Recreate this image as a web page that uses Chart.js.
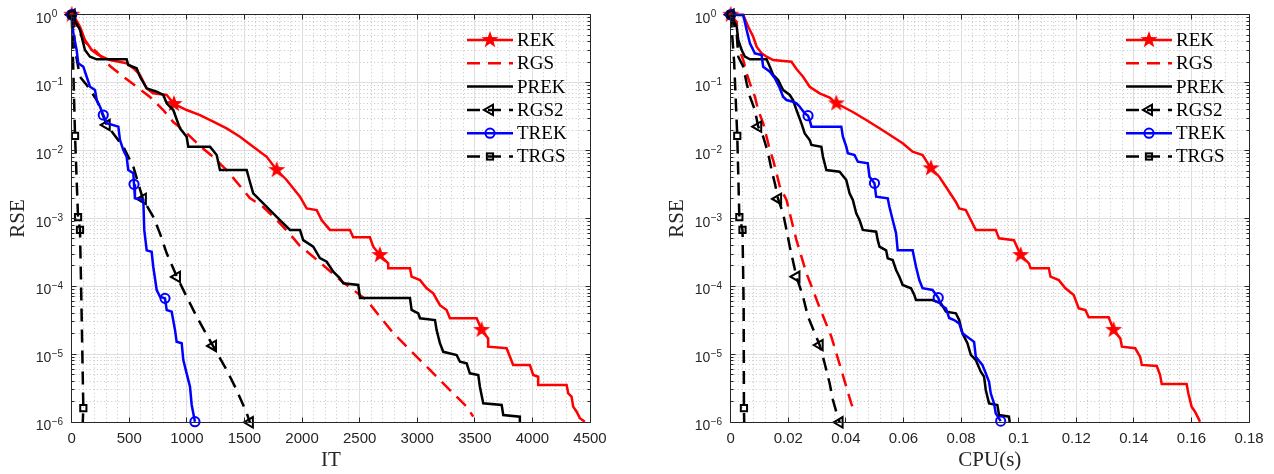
<!DOCTYPE html>
<html>
<head>
<meta charset="utf-8">
<script src="https://cdn.jsdelivr.net/npm/chart.js@4.4.1/dist/chart.umd.min.js"></script>
<style>
  html, body { margin: 0; padding: 0; background: #fff; }
  #wrap { position: relative; width: 1274px; height: 474px; }
  canvas { position: absolute; top: 0; }
  #cL { left: 0; }
  #cR { left: 660px; }
</style>
</head>
<body>
<div id="wrap">
  <canvas id="cL" width="660" height="474"></canvas>
  <canvas id="cR" width="614" height="474"></canvas>
</div>
<script>
const SERIES = ['REK', 'RGS', 'PREK', 'RGS2', 'TREK', 'TRGS'];

const IT_TICKS = [0, 500, 1000, 1500, 2000, 2500, 3000, 3500, 4000, 4500];
const IT_LABELS = ['0', '500', '1000', '1500', '2000', '2500', '3000', '3500', '4000', '4500'];
const CPU_TICKS = [0, 0.02, 0.04, 0.06, 0.08, 0.1, 0.12, 0.14, 0.16, 0.18];
const CPU_LABELS = ['0', '0.02', '0.04', '0.06', '0.08', '0.1', '0.12', '0.14', '0.16', '0.18'];
const RSE_EXP = [0, -1, -2, -3, -4, -5, -6];

// left panel: RSE against iterations, [IT, RSE]
const REK_IT = [[0,1],[14,0.99],[72,0.666],[115,0.425],[174,0.302],[231,0.255],[332,0.215],[477,0.193],[535,0.163],[593,0.13],[651,0.0825],[708,0.0697],[825,0.0658],[888,0.0485],[998,0.0395],[1114,0.0333],[1229,0.0266],[1345,0.0212],[1461,0.016],[1576,0.0114],[1693,0.0081],[1780,0.00517],[1866,0.00369],[1982,0.00209],[2040,0.00141],[2127,0.00133],[2170,9.5e-4],[2242,6.8e-4],[2416,6.8e-4],[2444,5.3e-4],[2589,5.3e-4],[2618,3.85e-4],[2676,2.9e-4],[2748,2.19e-4],[2748,1.85e-4],[2937,1.85e-4],[2951,1.39e-4],[3024,1.24e-4],[3082,9.4e-5],[3139,7.9e-5],[3197,5.3e-5],[3255,4.5e-5],[3284,3.4e-5],[3516,3.4e-5],[3559,2.29e-5],[3616,1.72e-5],[3616,1.3e-5],[3776,1.23e-5],[3805,9.2e-6],[3833,7.0e-6],[3978,7.0e-6],[4007,4.97e-6],[4050,4.69e-6],[4050,3.54e-6],[4297,3.54e-6],[4311,2.67e-6],[4340,2.38e-6],[4354,1.7e-6],[4384,1.43e-6],[4412,1.15e-6],[4455,1.02e-6]];
const RGS_IT = [[0,1],[55,0.595],[115,0.396],[217,0.282],[332,0.176],[448,0.122],[564,0.087],[680,0.0614],[795,0.0395],[882,0.0263],[998,0.0181],[1114,0.01167],[1229,0.00804],[1345,0.00517],[1461,0.00301],[1547,0.002],[1663,0.001476],[1780,9.5e-4],[1895,5.9e-4],[1982,3.94e-4],[2097,2.74e-4],[2214,1.85e-4],[2330,1.24e-4],[2444,8.9e-5],[2561,6.3e-5],[2676,3.58e-5],[2792,2.06e-5],[2908,1.3e-5],[3052,7.4e-6],[3168,4.69e-6],[3312,2.67e-6],[3429,1.7e-6],[3486,1.21e-6]];
const PREK_IT = [[0,1],[72,0.595],[115,0.302],[159,0.241],[217,0.2205],[477,0.2205],[491,0.1818],[564,0.1626],[593,0.122],[651,0.0825],[738,0.0735],[795,0.0658],[825,0.0496],[882,0.0395],[940,0.0212],[998,0.016],[1012,0.0114],[1201,0.0114],[1259,0.0086],[1287,0.00517],[1519,0.00517],[1547,0.00348],[1576,0.00235],[1663,0.00167],[1721,0.00133],[1808,9.5e-4],[1895,6.8e-4],[1982,6.8e-4],[2010,4.8e-4],[2097,3.85e-4],[2155,2.62e-4],[2214,2.31e-4],[2271,1.65e-4],[2329,1.32e-4],[2358,1.11e-4],[2488,1.05e-4],[2503,6.76e-5],[2937,6.76e-5],[2951,4.5e-5],[3009,4.02e-5],[3024,3.4e-5],[3154,3.2e-5],[3168,2.29e-5],[3197,1.46e-5],[3226,1.09e-5],[3342,9.8e-6],[3371,7.8e-6],[3429,7.4e-6],[3457,5.26e-6],[3530,4.97e-6],[3544,3.34e-6],[3573,1.9e-6],[3733,1.8e-6],[3747,1.28e-6],[3891,1.21e-6],[3891,1e-6]];
const RGS2_IT = [[0,1],[14,0.835],[29,0.302],[72,0.122],[130,0.0923],[217,0.0555],[304,0.0238],[448,0.0114],[535,0.00578],[618,0.00194],[708,0.00106],[766,6.05e-4],[825,3.07e-4],[914,1.38e-4],[998,7.06e-5],[1085,3.58e-5],[1227,1.33e-5],[1345,5.9e-6],[1432,2.99e-6],[1519,1.37e-6],[1547,1e-6]];
const TREK_IT = [[0,1],[14,0.532],[43,0.302],[57,0.1925],[101,0.1716],[130,0.122],[159,0.087],[202,0.0779],[217,0.0555],[246,0.0442],[274,0.0334],[304,0.0252],[405,0.0225],[419,0.0143],[448,0.0102],[477,0.0081],[491,0.00517],[535,0.00463],[541,0.00319],[549,0.00198],[622,0.00187],[630,6.8e-4],[651,3.4e-4],[694,3.24e-4],[708,1.95e-4],[738,8.86e-5],[767,7.06e-5],[810,6.68e-5],[825,4.5e-5],[868,4.25e-5],[897,2.29e-5],[911,1.53e-5],[955,1.46e-5],[969,8.26e-6],[998,5.26e-6],[1027,3.34e-6],[1042,1.8e-6],[1070,1.02e-6]];
const TRGS_IT = [[0,1],[12,0.2],[29,0.0164],[55,1.05e-3],[72,6.8e-4],[85,5e-5],[101,1.62e-6],[96,1e-6]];

const REK_IT_MARKS = [0, 888, 1780, 2676, 3559];
const RGS2_IT_MARKS = [0, 304, 618, 914, 1227, 1547];
const TREK_IT_MARKS = [0, 274, 541, 810, 1070];
const TRGS_IT_MARKS = [0, 29, 55, 72, 101];

// right panel: RSE against CPU time in seconds, [CPU, RSE]
const REK_CPU = [[0,1],[0.00436,0.99],[0.00609,0.666],[0.00782,0.474],[0.009,0.338],[0.01073,0.27],[0.01246,0.241],[0.01474,0.215],[0.02111,0.203],[0.02284,0.159],[0.02512,0.122],[0.02744,0.087],[0.0309,0.0697],[0.03436,0.0604],[0.03668,0.0496],[0.04242,0.037],[0.04706,0.0282],[0.05166,0.0213],[0.05626,0.016],[0.05972,0.0128],[0.06318,0.00962],[0.06664,0.0086],[0.06955,0.00548],[0.07242,0.00412],[0.07474,0.00294],[0.0782,0.00175],[0.07934,0.00141],[0.08166,0.00133],[0.08339,9.5e-4],[0.08512,6.8e-4],[0.09204,6.8e-4],[0.09318,5.1e-4],[0.09837,4.8e-4],[0.10069,2.9e-4],[0.10356,2.19e-4],[0.10415,1.85e-4],[0.11048,1.85e-4],[0.11107,1.39e-4],[0.11394,1.24e-4],[0.11626,9.4e-5],[0.11913,7.48e-5],[0.12087,4.76e-5],[0.12318,4.5e-5],[0.12433,3.51e-5],[0.13125,3.51e-5],[0.13298,2.29e-5],[0.1353,1.72e-5],[0.13585,1.3e-5],[0.14048,1.23e-5],[0.14221,9.2e-6],[0.14277,7.0e-6],[0.14796,6.74e-6],[0.14913,4.97e-6],[0.14969,3.66e-6],[0.15834,3.66e-6],[0.15893,2.67e-6],[0.16007,1.7e-6],[0.16125,1.43e-6],[0.16239,1.15e-6],[0.16298,1.02e-6]];
const RGS_CPU = [[0,1],[0.00208,0.781],[0.00263,0.338],[0.00436,0.215],[0.00554,0.137],[0.00668,0.0977],[0.0084,0.0621],[0.00955,0.0395],[0.01128,0.0252],[0.01246,0.016],[0.0136,0.0102],[0.01474,0.00726],[0.01592,0.00463],[0.01706,0.00294],[0.01938,0.00187],[0.02052,0.00119],[0.02166,7.57e-4],[0.02284,4.8e-4],[0.02457,2.74e-4],[0.0263,1.56e-4],[0.02858,8.86e-5],[0.03031,5.64e-5],[0.03263,3.2e-5],[0.03495,1.82e-5],[0.03668,1.04e-5],[0.03841,5.9e-6],[0.04014,3.34e-6],[0.04187,1.9e-6],[0.04301,1.43e-6]];
const PREK_CPU = [[0,1],[0.00208,0.666],[0.00263,0.425],[0.00381,0.302],[0.00495,0.241],[0.00668,0.2205],[0.01246,0.2205],[0.0136,0.1716],[0.01474,0.13],[0.01647,0.109],[0.0182,0.078],[0.02052,0.0658],[0.02166,0.0555],[0.02284,0.0395],[0.02457,0.0252],[0.02571,0.0179],[0.02744,0.0143],[0.02803,0.0121],[0.03149,0.0114],[0.03204,0.0081],[0.03322,0.00517],[0.03782,0.00489],[0.04014,0.00369],[0.04128,0.00235],[0.04242,0.00187],[0.0436,0.00119],[0.04474,9.5e-4],[0.04588,6.8e-4],[0.05052,6.4e-4],[0.05107,4.8e-4],[0.05166,3.85e-4],[0.05398,3.4e-4],[0.05453,2.59e-4],[0.05626,2.45e-4],[0.05744,1.75e-4],[0.05858,1.39e-4],[0.05972,1.05e-4],[0.06263,9.38e-5],[0.06377,7.48e-5],[0.06436,6.3e-5],[0.0701,6.3e-5],[0.07301,5.64e-5],[0.07474,4.25e-5],[0.0782,4.02e-5],[0.07934,3.2e-5],[0.08048,2.04e-5],[0.08221,1.46e-5],[0.08339,9.8e-6],[0.08512,8.26e-6],[0.08685,5.56e-6],[0.088,4.69e-6],[0.08858,2.99e-6],[0.08972,1.9e-6],[0.0926,1.8e-6],[0.09318,1.28e-6],[0.09664,1.21e-6],[0.09689,1e-6]];
const RGS2_CPU = [[0,1],[0.00208,0.532],[0.00263,0.241],[0.00436,0.1716],[0.00554,0.0977],[0.00668,0.0621],[0.0084,0.0395],[0.00955,0.0225],[0.01128,0.016],[0.01301,0.00912],[0.01419,0.00517],[0.01533,0.0033],[0.01647,0.00194],[0.0182,0.00119],[0.01938,6.8e-4],[0.02052,3.85e-4],[0.02284,1.39e-4],[0.02398,9.9e-5],[0.02512,7.06e-5],[0.02685,3.58e-5],[0.0309,1.37e-5],[0.03263,7.38e-6],[0.03436,3.75e-6],[0.0355,2.13e-6],[0.03668,1.43e-6],[0.03782,1e-6]];
const TREK_CPU = [[0,1],[0.00436,0.99],[0.00554,0.595],[0.00668,0.379],[0.0084,0.27],[0.01073,0.255],[0.01128,0.1716],[0.0136,0.145],[0.01533,0.116],[0.01706,0.0826],[0.0182,0.0621],[0.01938,0.0555],[0.02166,0.0524],[0.02284,0.0496],[0.02398,0.0442],[0.02571,0.0354],[0.02685,0.0326],[0.02744,0.0282],[0.02803,0.0225],[0.03841,0.0225],[0.03896,0.016],[0.04014,0.0114],[0.04069,0.00912],[0.04301,0.0086],[0.04415,0.00686],[0.04761,0.00649],[0.0482,0.00412],[0.04993,0.0033],[0.05052,0.00209],[0.05453,0.00198],[0.05512,0.00149],[0.05626,9.5e-4],[0.05744,6.05e-4],[0.05799,3.4e-4],[0.06318,3.4e-4],[0.06436,1.95e-4],[0.0655,1.24e-4],[0.06664,9.4e-5],[0.0701,8.86e-5],[0.07208,6.82e-5],[0.07301,5.33e-5],[0.07474,4.76e-5],[0.07588,3.43e-5],[0.07761,3.2e-5],[0.07934,2.86e-5],[0.08048,2.04e-5],[0.08453,1.53e-5],[0.08512,9.2e-6],[0.0874,7.0e-6],[0.08858,5.26e-6],[0.08972,3.95e-6],[0.09031,2.67e-6],[0.09145,1.9e-6],[0.09204,1.36e-6],[0.09377,1.04e-6]];
const TRGS_CPU = [[0,1],[0.0012,0.2],[0.00228,0.0164],[0.003,1.05e-3],[0.0041,6.8e-4],[0.0045,5e-5],[0.0046,1.62e-6],[0.0047,1e-6]];

const REK_CPU_MARKS = [0, 0.03668, 0.06955, 0.10069, 0.13298];
const RGS2_CPU_MARKS = [0, 0.00955, 0.01647, 0.02284, 0.0309, 0.03782];
const TREK_CPU_MARKS = [0, 0.02685, 0.04993, 0.07208, 0.09377];
const TRGS_CPU_MARKS = [0, 0.00228, 0.003, 0.0041, 0.0046];

const TICK_FONT = '"Liberation Sans", Arial, Helvetica, sans-serif';
const SERIF = '"Liberation Serif", "Times New Roman", serif';
const AXIS_GRAY = '#262626';
const DASH = [13, 8];
const LINE_W = 2.5;

// filled pentagram, MATLAB 'p' marker
function makeStar(r, color) {
  const c = document.createElement('canvas');
  const s = Math.ceil(r * 2 + 2);
  c.width = c.height = s;
  const g = c.getContext('2d');
  g.beginPath();
  for (let i = 0; i < 10; i++) {
    const rr = i % 2 ? r * 0.4 : r;
    const a = -Math.PI / 2 + i * Math.PI / 5;
    g.lineTo(s / 2 + rr * Math.cos(a), s / 2 + rr * Math.sin(a));
  }
  g.closePath();
  g.fillStyle = color;
  g.fill();
  return c;
}
const STAR = makeStar(9, '#ff0000');

const STYLES = {
  REK:  {color: '#ff0000', dash: [], marker: 'star', pointStyle: STAR, r: 8},
  RGS:  {color: '#ff0000', dash: DASH, marker: null},
  PREK: {color: '#000000', dash: [], marker: null},
  RGS2: {color: '#000000', dash: DASH, marker: 'triangle', pointStyle: 'triangle', rot: -90, r: 6},
  TREK: {color: '#0000ff', dash: [], marker: 'circle', pointStyle: 'circle', r: 4.6},
  TRGS: {color: '#000000', dash: DASH, marker: 'rect', pointStyle: 'rect', r: 4.4},
};

function drawMarker(ctx, st, x, y) {
  if (!st.marker) return;
  ctx.save();
  ctx.setLineDash([]);
  ctx.lineWidth = 2;
  ctx.strokeStyle = st.color;
  if (st.marker === 'star') {
    ctx.drawImage(STAR, x - STAR.width / 2, y - STAR.height / 2);
  } else if (st.marker === 'circle') {
    ctx.beginPath();
    ctx.arc(x, y, st.r, 0, Math.PI * 2);
    ctx.stroke();
  } else if (st.marker === 'triangle') {
    ctx.beginPath();
    ctx.moveTo(x - st.r, y);
    ctx.lineTo(x + st.r * 0.5, y - st.r * 0.866);
    ctx.lineTo(x + st.r * 0.5, y + st.r * 0.866);
    ctx.closePath();
    ctx.stroke();
  } else if (st.marker === 'rect') {
    const h = st.r * Math.SQRT1_2;
    ctx.strokeRect(x - h, y - h, 2 * h, 2 * h);
  }
  ctx.restore();
}

// grid, box, inward ticks, superscript y labels and legend, MATLAB style
const matlabAxes = {
  id: 'matlabAxes',
  beforeDatasetsDraw(chart, args, o) {
    const {ctx, chartArea: a, scales: {x, y}} = chart;
    const snap = v => Math.floor(v) + 0.5;
    ctx.save();
    ctx.lineWidth = 1;
    // minor grid, dotted
    ctx.strokeStyle = '#c4c4c4';
    ctx.setLineDash([1, 2.6]);
    ctx.beginPath();
    for (let e = -6; e < 0; e++) {
      for (let k = 2; k <= 9; k++) {
        const py = snap(y.getPixelForValue(k * Math.pow(10, e)));
        ctx.moveTo(a.left, py); ctx.lineTo(a.right, py);
      }
    }
    for (let i = 0; i < o.ticks.length - 1; i++) {
      const step = (o.ticks[i + 1] - o.ticks[i]) / 5;
      for (let k = 1; k < 5; k++) {
        const px = snap(x.getPixelForValue(o.ticks[i] + k * step));
        ctx.moveTo(px, a.top); ctx.lineTo(px, a.bottom);
      }
    }
    ctx.stroke();
    // major grid
    ctx.setLineDash([]);
    ctx.strokeStyle = '#dedede';
    ctx.beginPath();
    for (const e of RSE_EXP) {
      const py = snap(y.getPixelForValue(Math.pow(10, e)));
      ctx.moveTo(a.left, py); ctx.lineTo(a.right, py);
    }
    for (const v of o.ticks) {
      const px = snap(x.getPixelForValue(v));
      ctx.moveTo(px, a.top); ctx.lineTo(px, a.bottom);
    }
    ctx.stroke();
    ctx.restore();
  },
  afterDatasetsDraw(chart, args, o) {
    const {ctx, chartArea: a, scales: {x, y}} = chart;
    const snap = v => Math.floor(v) + 0.5;
    const L = snap(a.left), R = snap(a.right), T = snap(a.top), B = snap(a.bottom);
    ctx.save();
    ctx.strokeStyle = AXIS_GRAY;
    ctx.lineWidth = 1;
    ctx.setLineDash([]);
    ctx.beginPath();
    ctx.rect(L, T, R - L, B - T);
    for (let e = -6; e <= 0; e++) {
      const py = snap(y.getPixelForValue(Math.pow(10, e)));
      ctx.moveTo(L, py); ctx.lineTo(L + 5, py);
      ctx.moveTo(R, py); ctx.lineTo(R - 5, py);
      if (e === 0) continue;
      for (let k = 2; k <= 9; k++) {
        const pm = snap(y.getPixelForValue(k * Math.pow(10, e)));
        ctx.moveTo(L, pm); ctx.lineTo(L + 3, pm);
        ctx.moveTo(R, pm); ctx.lineTo(R - 3, pm);
      }
    }
    for (const v of o.ticks) {
      const px = snap(x.getPixelForValue(v));
      ctx.moveTo(px, B); ctx.lineTo(px, B - 5);
      ctx.moveTo(px, T); ctx.lineTo(px, T + 5);
    }
    ctx.stroke();

    // legend, no box
    SERIES.forEach((name, i) => {
      const st = STYLES[name];
      const ly = a.top + 25.3 + i * 23.3;
      ctx.save();
      ctx.strokeStyle = st.color;
      ctx.lineWidth = LINE_W;
      ctx.setLineDash(st.dash);
      ctx.beginPath();
      ctx.moveTo(a.right - 123, ly);
      ctx.lineTo(a.right - 77, ly);
      ctx.stroke();
      ctx.restore();
      drawMarker(ctx, st, a.right - 100, ly);
      ctx.fillStyle = '#000';
      ctx.font = '19px ' + SERIF;
      ctx.textAlign = 'left';
      ctx.textBaseline = 'middle';
      ctx.fillText(name, a.right - 73, ly + 1);
    });
    ctx.restore();
  },
  afterDraw(chart) {
    const {ctx, chartArea: a, scales: {y}} = chart;
    ctx.save();
    ctx.fillStyle = AXIS_GRAY;
    ctx.textAlign = 'left';
    ctx.textBaseline = 'alphabetic';
    for (const e of RSE_EXP) {
      const py = y.getPixelForValue(Math.pow(10, e));
      const x0 = a.left - 36;
      ctx.font = '14px ' + TICK_FONT;
      ctx.fillText('10', x0, py + 8);
      const w = ctx.measureText('10').width;
      ctx.font = '10px ' + TICK_FONT;
      ctx.fillText(e < 0 ? '\u2212' + (-e) : String(e), x0 + w + 0.5, py + 2.5);
    }
    ctx.restore();
  },
};

function makeDataset(name, pts, marks, order) {
  const st = STYLES[name];
  return {
    label: name,
    order,
    data: pts.map(([x, y]) => ({x, y})),
    borderColor: st.color,
    borderWidth: LINE_W,
    borderDash: st.dash,
    fill: false,
    tension: 0,
    clip: false,
    pointStyle: st.pointStyle || 'circle',
    pointRotation: st.rot || 0,
    pointRadius: c => (st.marker && c.raw && marks.includes(c.raw.x)) ? st.r : 0,
    pointHoverRadius: 0,
    pointBorderColor: st.color,
    pointBackgroundColor: 'rgba(0,0,0,0)',
    pointBorderWidth: 2,
  };
}

function makeChart(id, sets, marks, ticks, labels, max, xTitle, geo) {
  const datasets = sets.map((pts, i) => makeDataset(SERIES[i], pts, marks[i], SERIES.length - i));
  return new Chart(document.getElementById(id), {
    type: 'line',
    data: {datasets},
    plugins: [matlabAxes],
    options: {
      responsive: false,
      animation: false,
      events: [],
      layout: {padding: {left: 0, right: geo.padRight, top: 14.7, bottom: 0}},
      plugins: {
        legend: {display: false},
        tooltip: {enabled: false},
        matlabAxes: {ticks},
      },
      scales: {
        x: {
          type: 'linear',
          min: 0,
          max,
          afterBuildTicks: s => { s.ticks = ticks.map(v => ({value: v})); },
          afterFit: s => { s.height = 51.7; s.paddingLeft = 0; s.paddingRight = 0; },
          grid: {display: false, drawTicks: false},
          border: {display: false},
          ticks: {
            autoSkip: false,
            maxRotation: 0,
            padding: 8,
            color: AXIS_GRAY,
            font: {family: TICK_FONT, size: 15},
            callback: (v, i) => labels[i],
          },
          title: {
            display: true,
            text: xTitle,
            color: AXIS_GRAY,
            font: {family: SERIF, size: 21},
            padding: {top: 0, bottom: 0.6},
          },
        },
        y: {
          type: 'logarithmic',
          min: 1e-6,
          max: 1,
          afterFit: s => { s.width = geo.yWidth; },
          grid: {display: false, drawTicks: false},
          border: {display: false},
          ticks: {display: false},
          title: {
            display: true,
            text: 'RSE',
            color: AXIS_GRAY,
            font: {family: SERIF, size: 21},
            padding: {top: geo.yTitlePad, bottom: 0},
          },
        },
      },
    },
  });
}

makeChart('cL',
  [REK_IT, RGS_IT, PREK_IT, RGS2_IT, TREK_IT, TRGS_IT],
  [REK_IT_MARKS, [], [], RGS2_IT_MARKS, TREK_IT_MARKS, TRGS_IT_MARKS],
  IT_TICKS, IT_LABELS, 4500, 'IT',
  {yWidth: 71.7, padRight: 70, yTitlePad: 5.9});

makeChart('cR',
  [REK_CPU, RGS_CPU, PREK_CPU, RGS2_CPU, TREK_CPU, TRGS_CPU],
  [REK_CPU_MARKS, [], [], RGS2_CPU_MARKS, TREK_CPU_MARKS, TRGS_CPU_MARKS],
  CPU_TICKS, CPU_LABELS, 0.18, 'CPU(s)',
  {yWidth: 70.7, padRight: 25, yTitlePad: 4.9});
</script>
</body>
</html>
